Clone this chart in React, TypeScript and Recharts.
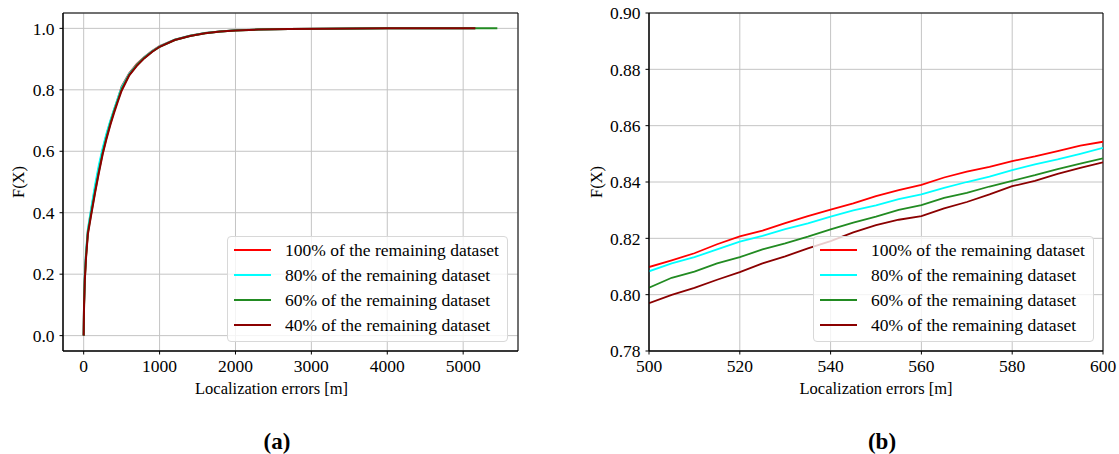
import React from 'react';
import { LineChart, Line, XAxis, YAxis, CartesianGrid, ReferenceArea } from 'recharts';

const FONT = '"Liberation Serif", "Times New Roman", serif';

const SERIES = [
  { key: 'p100', name: '100% of the remaining dataset', color: '#ff0000' },
  { key: 'p80', name: '80% of the remaining dataset', color: '#00ffff' },
  { key: 'p60', name: '60% of the remaining dataset', color: '#228b22' },
  { key: 'p40', name: '40% of the remaining dataset', color: '#8b0000' },
];

// (a) full range CDF
const ERR_FULL = [0, 5, 15, 30, 55, 100, 150, 200, 250, 300, 350, 400, 450, 500, 600, 700, 800, 900, 1000, 1200, 1400, 1600, 1800, 2000, 2300, 2700, 3200, 4000];
const TAIL_ERR = [5160, 5160, 5450, 5160];
const F_FULL_100 = [0, 0.105, 0.19, 0.26, 0.34, 0.41, 0.48, 0.545, 0.603, 0.652, 0.695, 0.734, 0.771, 0.81, 0.854, 0.884, 0.907, 0.926, 0.942, 0.963, 0.976, 0.985, 0.99, 0.994, 0.996, 0.998, 0.999, 1.0, 1.0];
const F_FULL_80 = [0, 0.11, 0.2, 0.27, 0.345, 0.415, 0.49, 0.555, 0.61, 0.657, 0.698, 0.736, 0.772, 0.808, 0.852, 0.882, 0.906, 0.925, 0.941, 0.963, 0.976, 0.985, 0.99, 0.994, 0.996, 0.998, 0.999, 1.0, 1.0];
const F_FULL_60 = [0, 0.1, 0.185, 0.255, 0.335, 0.4, 0.47, 0.535, 0.595, 0.645, 0.69, 0.73, 0.766, 0.8025, 0.8485, 0.88, 0.904, 0.924, 0.94, 0.962, 0.975, 0.984, 0.99, 0.993, 0.996, 0.998, 0.999, 1.0, 1.0];
const F_FULL_40 = [0, 0.1, 0.18, 0.25, 0.33, 0.395, 0.465, 0.53, 0.59, 0.64, 0.685, 0.725, 0.762, 0.797, 0.847, 0.878, 0.903, 0.923, 0.94, 0.962, 0.975, 0.984, 0.99, 0.993, 0.996, 0.998, 0.999, 1.0, 1.0];

// (b) zoom 500-600 m
const ERR_ZOOM = [500, 505, 510, 515, 520, 525, 530, 535, 540, 545, 550, 555, 560, 565, 570, 575, 580, 585, 590, 595, 600];
const F_ZOOM_100 = [0.8098, 0.8122, 0.8147, 0.8179, 0.8207, 0.8227, 0.8254, 0.8279, 0.8302, 0.8324, 0.835, 0.8371, 0.839, 0.8416, 0.8437, 0.8454, 0.8474, 0.8491, 0.851, 0.8529, 0.8543];
const F_ZOOM_80 = [0.8083, 0.8111, 0.8133, 0.8161, 0.8188, 0.8209, 0.8233, 0.8253, 0.8277, 0.8299, 0.8317, 0.8339, 0.8356, 0.8379, 0.84, 0.8419, 0.8442, 0.8463, 0.848, 0.85, 0.8521];
const F_ZOOM_60 = [0.8025, 0.806, 0.8082, 0.8111, 0.8133, 0.8161, 0.8182, 0.8206, 0.8232, 0.8256, 0.8277, 0.8301, 0.8318, 0.8344, 0.8361, 0.8384, 0.8404, 0.8424, 0.8446, 0.8465, 0.8484];
const F_ZOOM_40 = [0.797, 0.7999, 0.8024, 0.8053, 0.808, 0.8111, 0.8136, 0.8164, 0.819, 0.8221, 0.8247, 0.8266, 0.8279, 0.8306, 0.8329, 0.8356, 0.8385, 0.8404, 0.8429, 0.845, 0.847];

const X_TICKS_A = [0, 1000, 2000, 3000, 4000, 5000];
const Y_TICKS_A = [0, 0.2, 0.4, 0.6, 0.8, 1.0];
const X_TICKS_B = [500, 520, 540, 560, 580, 600];
const Y_TICKS_B = [0.78, 0.8, 0.82, 0.84, 0.86, 0.88, 0.9];

const FULL_VALUES = [F_FULL_100, F_FULL_80, F_FULL_60, F_FULL_40];
const ZOOM_VALUES = [F_ZOOM_100, F_ZOOM_80, F_ZOOM_60, F_ZOOM_40];

const fullData = FULL_VALUES.map((vals, i) =>
  [...ERR_FULL, TAIL_ERR[i]].map((x, j) => ({ x, y: vals[j] }))
);
const zoomData = ZOOM_VALUES.map((vals) => ERR_ZOOM.map((x, j) => ({ x, y: vals[j] })));

const X_MAX_A = Math.max(...TAIL_ERR);
const X_DOMAIN_A: [number, number] = [-0.05 * X_MAX_A, 1.05 * X_MAX_A];
const Y_DOMAIN_A: [number, number] = [-0.05, 1.05];
const X_DOMAIN_B: [number, number] = [500, 600];
const Y_DOMAIN_B: [number, number] = [0.78, 0.9];

const tickStyle = { fontFamily: FONT, fontSize: 17.5, fill: '#000' };

const Panel = ({
  width, marginRight, yAxisWidth, xDomain, yDomain, xTicks, yTicks, yDigits,
  data, strokeWidth, yLabelX, xLabelDx,
}: any) => (
  <LineChart width={width} height={454} margin={{ top: 13, right: marginRight, bottom: 60, left: 0 }}>
    <CartesianGrid stroke="#c4c4c4" strokeWidth={1} />
    <XAxis
      dataKey="x"
      type="number"
      domain={xDomain}
      ticks={xTicks}
      interval={0}
      allowDataOverflow
      height={43}
      tickSize={3.5}
      tickMargin={5.5}
      tick={tickStyle}
      axisLine={{ stroke: '#000' }}
      tickLine={{ stroke: '#000' }}
      label={{
        value: 'Localization errors [m]',
        position: 'insideBottom',
        offset: 0,
        dx: xLabelDx,
        style: { fontFamily: FONT, fontSize: 16.5, fill: '#000' },
      }}
    />
    <YAxis
      type="number"
      domain={yDomain}
      ticks={yTicks}
      interval={0}
      allowDataOverflow
      width={yAxisWidth}
      tickSize={3.5}
      tickMargin={5}
      tick={tickStyle}
      tickFormatter={(v: number) => v.toFixed(yDigits)}
      axisLine={{ stroke: '#000' }}
      tickLine={{ stroke: '#000' }}
      label={{
        value: 'F(X)',
        angle: -90,
        position: 'insideLeft',
        offset: yLabelX,
        style: { fontFamily: FONT, fontSize: 16.5, fill: '#000', textAnchor: 'middle' },
      }}
    />
    {SERIES.map((s, i) => (
      <Line
        key={s.key}
        name={s.name}
        data={data[i]}
        dataKey="y"
        type="linear"
        stroke={s.color}
        strokeWidth={strokeWidth}
        dot={false}
        activeDot={false}
        isAnimationActive={false}
      />
    ))}
    <ReferenceArea
      x1={xDomain[0]}
      x2={xDomain[1]}
      y1={yDomain[0]}
      y2={yDomain[1]}
      fill="none"
      fillOpacity={0}
      stroke="#000"
      strokeWidth={1}
    />
  </LineChart>
);

const LegendBox = ({ left }: { left: number }) => (
  <div
    style={{
      position: 'absolute', left, top: 236, width: 281, height: 106,
      boxSizing: 'border-box', border: '1px solid #d8d8d8', borderRadius: 4,
      background: 'rgba(255,255,255,0.8)', fontFamily: FONT, fontSize: 17.5, color: '#000',
    }}
  >
    {SERIES.map((s, i) => (
      <div
        key={s.key}
        style={{
          position: 'absolute', left: 0, top: 1 + i * 25, height: 24,
          display: 'flex', alignItems: 'center', whiteSpace: 'nowrap',
        }}
      >
        <div style={{ width: 37, height: 2, background: s.color, marginLeft: 6 }} />
        <span style={{ marginLeft: 14 }}>{s.name}</span>
      </div>
    ))}
  </div>
);

const Caption = ({ text, cx }: { text: string; cx: number }) => (
  <div
    style={{
      position: 'absolute', left: cx - 30, width: 60, top: 427, textAlign: 'center',
      fontFamily: FONT, fontSize: 23, fontWeight: 'bold', lineHeight: '30px',
    }}
  >
    {text}
  </div>
);

export default function App() {
  return (
    <div style={{ position: 'absolute', left: 0, top: 0, width: 1119, height: 454, background: '#fff', overflow: 'hidden' }}>
      <div style={{ position: 'absolute', left: 0, top: 0 }}>
        <Panel
          width={560}
          marginRight={42}
          yAxisWidth={63}
          xDomain={X_DOMAIN_A}
          yDomain={Y_DOMAIN_A}
          xTicks={X_TICKS_A}
          yTicks={Y_TICKS_A}
          yDigits={1}
          data={fullData}
          strokeWidth={2}
          yLabelX={18.5}
          xLabelDx={-19}
        />
      </div>
      <div style={{ position: 'absolute', left: 560, top: 0 }}>
        <Panel
          width={559}
          marginRight={16}
          yAxisWidth={89}
          xDomain={X_DOMAIN_B}
          yDomain={Y_DOMAIN_B}
          xTicks={X_TICKS_B}
          yTicks={Y_TICKS_B}
          yDigits={2}
          data={zoomData}
          strokeWidth={1.8}
          yLabelX={36}
          xLabelDx={0}
        />
      </div>
      <LegendBox left={227} />
      <LegendBox left={813} />
      <Caption text="(a)" cx={277} />
      <Caption text="(b)" cx={882} />
    </div>
  );
}
